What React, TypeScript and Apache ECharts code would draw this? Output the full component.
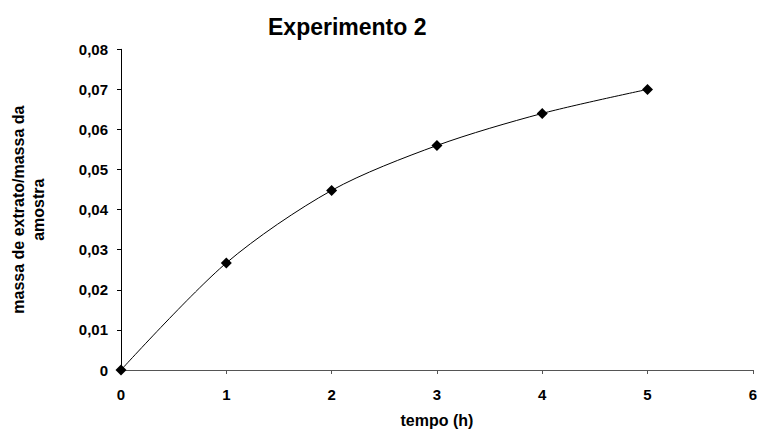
import React, { useEffect, useRef } from "react";
import * as echarts from "echarts";

const title = "Experimento 2";
const xName = "tempo (h)";
const yName = "massa de extrato/massa da\namostra";
const timeHours = [0, 1, 2, 3, 4, 5];
const massRatio = [0, 0.0267, 0.0448, 0.056, 0.064, 0.07];

export default function App() {
  const ref = useRef<HTMLDivElement>(null);
  useEffect(() => {
    if (!ref.current) return;
    const chart = echarts.init(ref.current, undefined, { renderer: "svg" });
    const font = "Liberation Sans, Arial, sans-serif";
    chart.setOption({
      animation: false,
      backgroundColor: "#fff",
      title: {
        text: title,
        left: 263,
        top: 10,
        textStyle: { fontFamily: font, fontWeight: "bold", fontSize: 23, color: "#000" },
      },
      grid: { left: 120.5, right: 5.3, top: 49.3, bottom: 60 },
      xAxis: {
        type: "value",
        min: 0,
        max: 6,
        interval: 1,
        name: xName,
        nameLocation: "middle",
        nameGap: 42,
        nameTextStyle: { fontFamily: font, fontWeight: "bold", fontSize: 16, color: "#000" },
        axisLine: { onZero: false, lineStyle: { color: "#555", width: 1 } },
        axisTick: { show: true, length: 4, lineStyle: { color: "#555" } },
        axisLabel: { margin: 17, fontFamily: font, fontWeight: "bold", fontSize: 15, color: "#000" },
        splitLine: { show: false },
      },
      yAxis: {
        type: "value",
        min: 0,
        max: 0.08,
        interval: 0.01,
        name: yName,
        nameLocation: "middle",
        nameRotate: 90,
        nameGap: 73,
        nameTextStyle: { fontFamily: font, fontWeight: "bold", fontSize: 16, color: "#000", lineHeight: 20, align: "center" },
        axisLine: { show: true, lineStyle: { color: "#000", width: 1 } },
        axisTick: { show: true, length: 4, lineStyle: { color: "#000" } },
        axisLabel: {
          margin: 13,
          fontFamily: font,
          fontWeight: "bold",
          fontSize: 15,
          color: "#000",
          formatter: (v: number) => (v === 0 ? "0" : v.toFixed(2).replace(".", ",")),
        },
        splitLine: { show: false },
      },
      series: [
        {
          type: "line",
          data: timeHours.map((t, i) => [t, massRatio[i]]),
          smooth: 0.3,
          symbol: "diamond",
          symbolSize: 11,
          itemStyle: { color: "#000" },
          lineStyle: { color: "#000", width: 1 },
        },
      ],
    });
    return () => chart.dispose();
  }, []);
  return <div ref={ref} style={{ width: 760, height: 433, position: "absolute", left: 0, top: 0 }} />;
}
